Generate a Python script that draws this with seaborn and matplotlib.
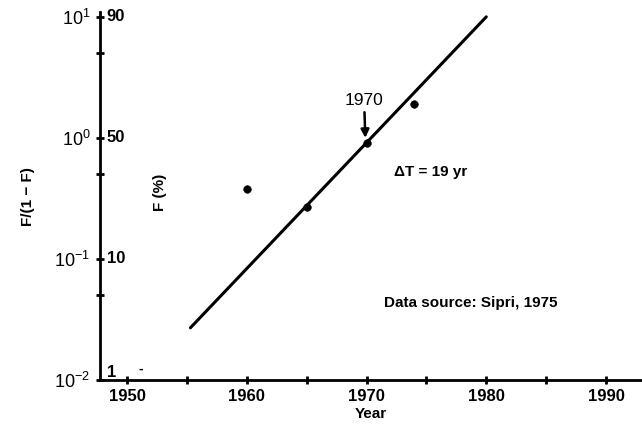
import matplotlib
matplotlib.use("Agg")
import matplotlib.pyplot as plt
import matplotlib.transforms as mtransforms
import numpy as np
import pandas as pd
import seaborn as sns

# observed points (year, F/(1-F))
years = [1960, 1965, 1970, 1974]
ratio = [0.38, 0.27, 0.91, 1.9]

# fitted logistic line, end points
fit_years = [1955.3, 1980.0]
fit_ratio = [0.027, 10.0]

# y axis labels
y_major = [0.01, 0.1, 1.0, 10.0]
y_minor = [0.05, 0.5, 5.0]
y_left_labels = ["$10^{-2}$", "$10^{-1}$", "$10^{0}$", "$10^{1}$"]
y_right_labels = ["1", "10", "50", "90"]

# x axis ticks
x_major = [1950, 1955, 1960, 1965, 1970, 1975, 1980, 1985, 1990]
x_labels = ["1950", "", "1960", "", "1970", "", "1980", "", "1990"]

sns.set_style("ticks")
plt.rcParams["font.family"] = ["Liberation Sans", "DejaVu Sans"]
plt.rcParams["mathtext.default"] = "regular"
plt.rcParams["text.color"] = "black"
plt.rcParams["axes.labelcolor"] = "black"
plt.rcParams["xtick.color"] = "black"
plt.rcParams["ytick.color"] = "black"

fig = plt.figure(figsize=(6.42, 4.34), dpi=100)
ax = fig.add_axes([100 / 642, 54 / 434, 542 / 642, 368 / 434])

pts = pd.DataFrame({"Year": years, "ratio": ratio})
fit = pd.DataFrame({"Year": fit_years, "ratio": fit_ratio})

sns.lineplot(data=fit, x="Year", y="ratio", color="black", linewidth=2.2, ax=ax)
sns.scatterplot(data=pts, x="Year", y="ratio", color="black", s=30, edgecolor="black", ax=ax, zorder=3)

ax.set_yscale("log")
ax.set_xlim(1947.75, 1993.0)
ax.set_ylim(0.01, 10 ** 1.04)

ax.set_yticks(y_major)
ax.set_yticklabels(y_left_labels, fontsize=13)
ax.set_yticks(y_minor, minor=True)
ax.set_yticklabels([], minor=True)
ax.set_xticks(x_major)
ax.set_xticklabels(x_labels, fontsize=12, fontweight="bold")
ax.tick_params(axis="both", which="both", direction="inout", length=6, width=2, color="black")
ax.tick_params(axis="y", which="major", pad=4)

for sp in ["top", "right"]:
    ax.spines[sp].set_visible(False)
ax.spines["left"].set_linewidth(2)
ax.spines["bottom"].set_linewidth(2)
ax.spines["left"].set_color("black")
ax.spines["bottom"].set_color("black")

ax.set_xlabel("Year", fontsize=11, fontweight="bold", labelpad=2)
ax.set_ylabel("")

# secondary scale labels (F in %) just right of the axis
trans = mtransforms.blended_transform_factory(ax.transAxes, ax.transData)
for val, lab in zip(y_major, y_right_labels):
    ax.text(0.012, val, lab, transform=trans, fontsize=12, fontweight="bold", ha="left",
            va="bottom" if lab == "1" else "center")
ax.text(0.075, 0.0108, "-", transform=trans, fontsize=10, ha="center", va="bottom", fontweight="bold")

fig.text(28 / 642, 1 - 197 / 434, "F/(1 \u2212 F)", rotation=90, fontsize=11,
         fontweight="bold", ha="center", va="center")
fig.text(160 / 642, 1 - 192 / 434, "F (%)", rotation=90, fontsize=11,
         fontweight="bold", ha="center", va="center")

ax.annotate("1970", xy=(1969.9, 1.0), xytext=(1969.8, 1.78), fontsize=12.5,
            ha="center", va="bottom",
            arrowprops=dict(arrowstyle="-|>", color="black", lw=1.8, mutation_scale=12,
                            shrinkA=1, shrinkB=0))
ax.text(1972.3, 0.52, "\u0394T = 19 yr", fontsize=11, fontweight="bold", ha="left", va="center")
ax.text(1971.5, 0.043, "Data source: Sipri, 1975", fontsize=11, fontweight="bold",
        ha="left", va="center")

fig.savefig("out.png", dpi=100)
